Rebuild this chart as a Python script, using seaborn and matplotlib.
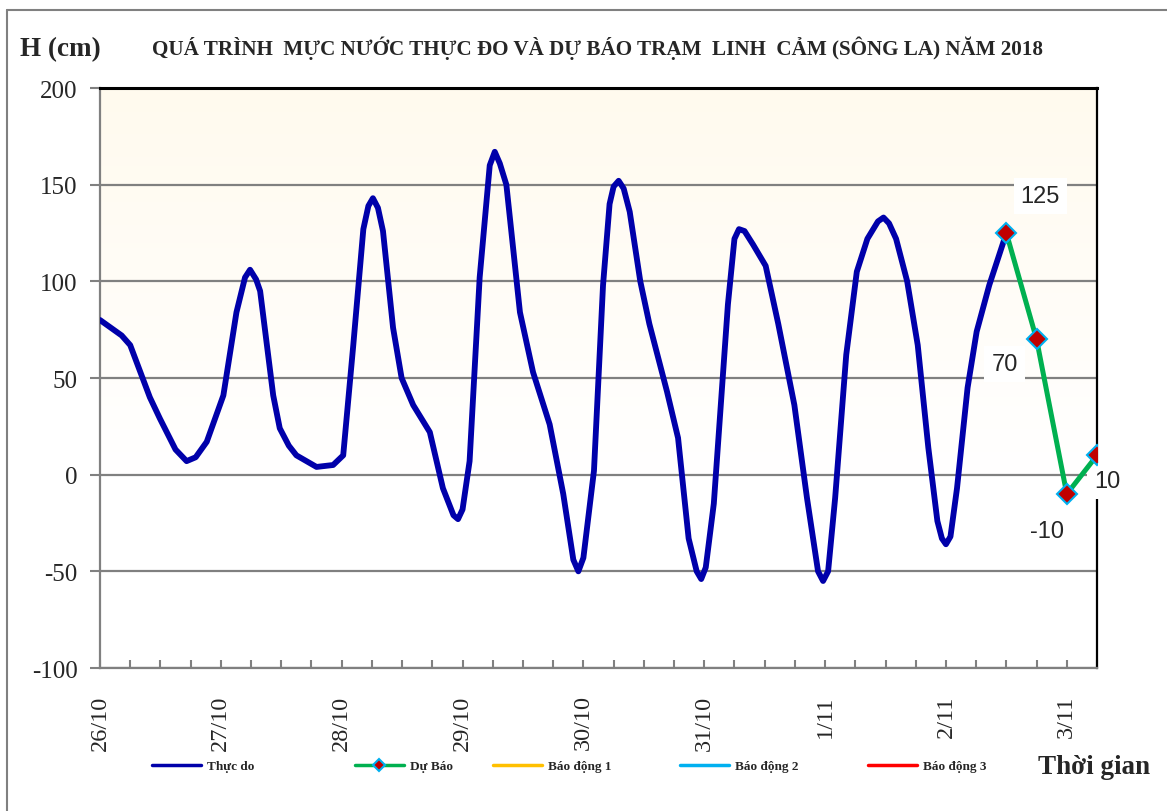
import numpy as np
import pandas as pd
import matplotlib
matplotlib.use("Agg")
import matplotlib.pyplot as plt
from matplotlib.lines import Line2D
import seaborn as sns

# Observed water level (hours since 26/10 00h, cm)
obs_hours = [0, 4.3, 6, 9.9, 11.9, 15, 17.2, 19, 21.2, 24.5, 27.1, 28.8, 29.8, 31, 31.8, 34.4, 35.7,
             37.5, 39, 43, 46.3, 48.3, 50.3, 52.3, 53.3, 54.2, 55.2, 56.2, 58.2, 59.9, 62.2, 65.5, 68.1,
             70.2, 71.1, 72, 73.4, 75.4, 77.4, 78.4, 79.4, 80.7, 83.4, 86, 89.3, 92, 94, 95, 96,
             98.1, 99.9, 101.2, 102, 103, 104, 105.2, 107.3, 109.1, 112.6, 114.8, 116.9, 118.5,
             119.4, 120.3, 121.9, 124.7, 126, 126.9, 128, 129.7, 132.2, 134.7, 137.9, 140.4,
             142.6, 143.6, 144.6, 146, 148.2, 150.3, 152.4, 154.5, 155.6, 156.7, 158.1, 160.3,
             162.4, 164.5, 166.3, 167.2, 168, 168.9, 170.2, 172.3, 174.1, 176.6, 180]
obs_level = [80, 72, 67, 40, 29, 13, 7, 9, 17, 41, 84, 102, 106, 101, 95, 41, 24,
             15, 10, 4, 5, 10, 67, 127, 139, 143, 138, 126, 76, 50, 36, 22, -7,
             -21, -23, -18, 7, 102, 160, 167, 161, 150, 84, 53, 26, -10, -44, -50, -43,
             2, 98, 140, 149, 152, 148, 136, 100, 78, 43, 19, -33, -50,
             -54, -48, -15, 88, 122, 127, 126, 119, 108, 78, 36, -12,
             -50, -55, -50, -12, 62, 105, 122, 131, 133, 130, 122, 100,
             67, 14, -24, -33, -36, -32, -7, 45, 74, 98, 125]

# Forecast
fc_hours = [180, 186, 192, 198]
fc_level = [125, 70, -10, 10]

day_labels = ["26/10", "27/10", "28/10", "29/10", "30/10", "31/10", "1/11", "2/11", "3/11"]
legend_names = ["Thực do", "Dự Báo", "Báo động 1", "Báo động 2", "Báo động 3"]

obs = pd.DataFrame({"hour": obs_hours, "level": obs_level})
fc = pd.DataFrame({"hour": fc_hours, "level": fc_level})

sns.set_style("white")
plt.rcParams["font.family"] = ["Liberation Serif", "DejaVu Serif"]
plt.rcParams["axes.unicode_minus"] = False

W, H = 1167, 812
fig = plt.figure(figsize=(W / 100, H / 100), dpi=100)
ax = fig.add_axes([100 / W, 143 / H, 997 / W, 580 / H])

# background gradient of plot area (pale cream at top, white lower down)
grad = np.linspace(0, 1, 256)
cream = np.array([255, 250, 238]) / 255
t = np.clip(grad * 1.5, 0, 1)[:, None]
img = (cream * (1 - t) + t)[:, None, :]
ax.imshow(img, extent=[0, 198, -100, 200], origin="upper", aspect="auto", zorder=0)

sns.lineplot(data=obs, x="hour", y="level", ax=ax, color="#0000AA", lw=4.2,
             sort=False, zorder=3, solid_joinstyle="round", solid_capstyle="round")
sns.lineplot(data=fc, x="hour", y="level", ax=ax, color="#00B050", lw=3.6,
             sort=False, zorder=7, marker="D", markersize=10, markerfacecolor="#C00000",
             markeredgecolor="#00B0F0", markeredgewidth=1.5)

ax.set_xlim(0, 198)
ax.set_ylim(-100, 200)
ax.set_yticks(range(-100, 201, 50))
ax.set_xticks(range(0, 193, 24))
ax.set_xticks(range(0, 199, 6), minor=True)
ax.set_xticklabels(day_labels, rotation=90, fontsize=17.5)
ax.tick_params(axis="y", direction="out", length=7, width=1.5, color="#808080",
               labelsize=18, pad=9, left=True)
ax.tick_params(axis="x", which="both", direction="in", length=6, width=1.5,
               color="#808080", bottom=True, pad=19)
ax.set_xlabel("")
ax.set_ylabel("")
ax.yaxis.grid(True, color="#808080", lw=1.6, zorder=1)
ax.set_axisbelow(True)
for side in ["left", "bottom"]:
    ax.spines[side].set_color("#808080")
    ax.spines[side].set_linewidth(1.6)
ax.spines["top"].set_color("black")
ax.spines["top"].set_linewidth(2.2)
ax.spines["right"].set_color("black")
ax.spines["right"].set_linewidth(1.6)

# value labels on the forecast
offsets = [(24.5, 26.6), (-23, -18), (-14.4, -26.6), (7.5, -18.7)]
for (hx, lv), off in zip(zip(fc_hours, fc_level), offsets):
    ax.annotate(f"{lv}", (hx, lv), xytext=off, textcoords="offset points",
                ha="center", va="center", fontsize=17, family="Liberation Sans",
                bbox=dict(boxstyle="square,pad=0.3", fc="white", ec="none"),
                zorder=5, annotation_clip=False)

fig.text(20 / W, 1 - 50 / H, "H (cm)", fontsize=19.5, fontweight="bold",
         ha="left", va="center")
fig.text(152 / W, 1 - 48 / H,
         "QUÁ TRÌNH  MỰC NƯỚC THỰC ĐO VÀ DỰ BÁO TRẠM  LINH  CẢM (SÔNG LA) NĂM 2018",
         fontsize=15.2, fontweight="bold", ha="left", va="center")
fig.text(1038 / W, 1 - 768 / H, "Thời gian", fontsize=19.5, fontweight="bold",
         ha="left", va="center")

handles = [
    Line2D([], [], color="#0000AA", lw=2.5),
    Line2D([], [], color="#00B050", lw=2.5, marker="D", markersize=6,
           markerfacecolor="#C00000", markeredgecolor="#00B0F0", markeredgewidth=1.5),
    Line2D([], [], color="#FFC000", lw=2.5),
    Line2D([], [], color="#00B0F0", lw=2.5),
    Line2D([], [], color="#FF0000", lw=2.5),
]
legend_x = [152, 355, 493, 680, 868]
for hd, name, lx in zip(handles, legend_names, legend_x):
    fig.legend([hd], [name], loc="center left", bbox_to_anchor=(lx / W, 1 - 767 / H),
               frameon=False, prop={"weight": "bold", "size": 9.5},
               handlelength=3.7, handletextpad=0.45, borderaxespad=0, borderpad=0)

# outer frame lines
fig.add_artist(Line2D([7 / W, 7 / W], [0, 1 - 11 / H], color="#808080", lw=1.5))
fig.add_artist(Line2D([7 / W, 1], [1 - 11 / H, 1 - 11 / H], color="#808080", lw=1.5))

fig.savefig("out.png", dpi=100)
